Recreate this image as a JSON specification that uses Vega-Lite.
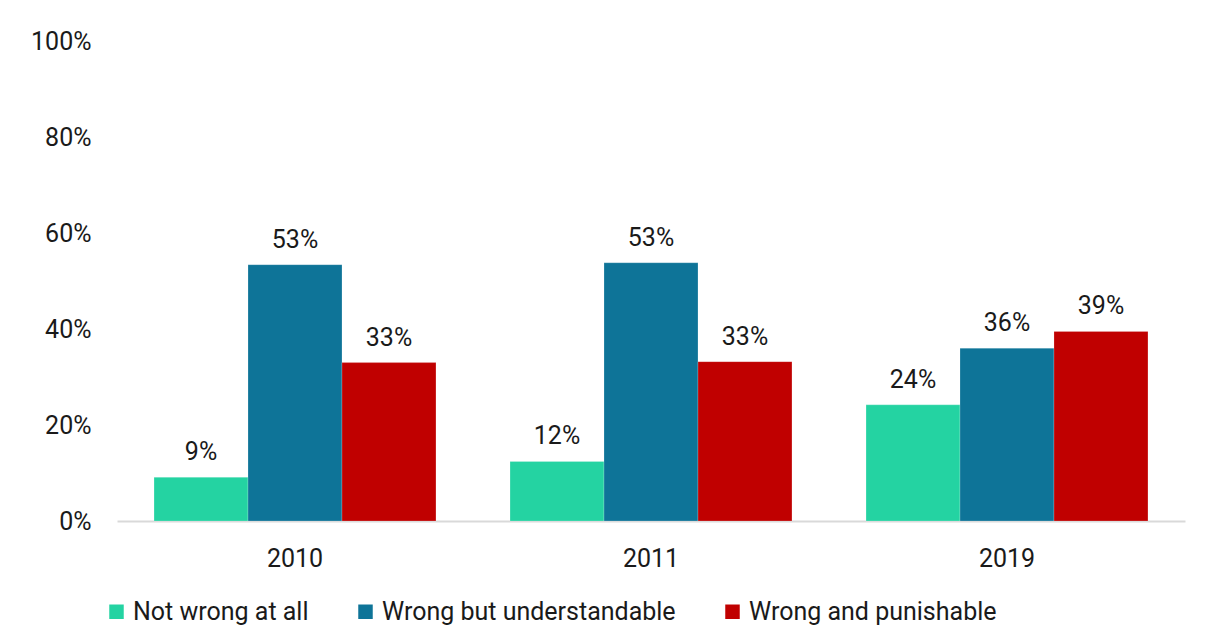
{
  "$schema": "https://vega.github.io/schema/vega-lite/v6.json",
  "autosize": "none",
  "width": 1068,
  "height": 480,
  "padding": {"left": 117, "top": 41, "right": 21, "bottom": 122},
  "background": "white",
  "data": {
    "values": [
      {"year": "2010", "category": "Not wrong at all", "value": 0.091, "label": "9%"},
      {"year": "2010", "category": "Wrong but understandable", "value": 0.534, "label": "53%"},
      {"year": "2010", "category": "Wrong and punishable", "value": 0.33, "label": "33%"},
      {"year": "2011", "category": "Not wrong at all", "value": 0.124, "label": "12%"},
      {"year": "2011", "category": "Wrong but understandable", "value": 0.538, "label": "53%"},
      {"year": "2011", "category": "Wrong and punishable", "value": 0.332, "label": "33%"},
      {"year": "2019", "category": "Not wrong at all", "value": 0.242, "label": "24%"},
      {"year": "2019", "category": "Wrong but understandable", "value": 0.36, "label": "36%"},
      {"year": "2019", "category": "Wrong and punishable", "value": 0.395, "label": "39%"}
    ]
  },
  "encoding": {
    "x": {
      "field": "year", "type": "nominal",
      "scale": {"paddingInner": 0.208, "paddingOuter": 0.104},
      "axis": {"title": null, "labelAngle": 0, "ticks": false, "domainColor": "#d9d9d9", "domainWidth": 2, "labelPadding": 25, "labelFontSize": 25, "labelColor": "#1a1a1a", "labelFont": "Roboto"}
    },
    "xOffset": {
      "field": "category", "type": "nominal",
      "sort": ["Not wrong at all", "Wrong but understandable", "Wrong and punishable"],
      "scale": {"paddingInner": 0, "paddingOuter": 0}
    },
    "y": {
      "field": "value", "type": "quantitative",
      "scale": {"domain": [0, 1]},
      "axis": {"title": null, "format": ".0%", "values": [0, 0.2, 0.4, 0.6, 0.8, 1], "grid": false, "ticks": false, "domain": false, "labelPadding": 26, "labelFontSize": 25, "labelColor": "#1a1a1a", "labelFont": "Roboto"}
    }
  },
  "layer": [
    {
      "mark": {"type": "bar", "stroke": "white", "strokeOpacity": 0.4, "strokeWidth": 0.5},
      "encoding": {
        "color": {
          "field": "category", "type": "nominal",
          "sort": ["Not wrong at all", "Wrong but understandable", "Wrong and punishable"],
          "scale": {"domain": ["Not wrong at all", "Wrong but understandable", "Wrong and punishable"], "range": ["#24d3a2", "#0e7498", "#c00000"]},
          "legend": {"title": null, "orient": "none", "legendX": -13, "legendY": 558, "direction": "horizontal", "symbolType": "square", "symbolSize": 210, "symbolStrokeWidth": 0, "labelFontSize": 25, "labelColor": "#1a1a1a", "labelFont": "Roboto", "labelLimit": 0, "columnPadding": 44, "labelOffset": 4}
        }
      }
    },
    {
      "mark": {"type": "text", "baseline": "alphabetic", "dy": -17, "fontSize": 25, "font": "Roboto", "color": "#1a1a1a"},
      "encoding": {"text": {"field": "label"}}
    }
  ],
  "config": {"view": {"stroke": null}}
}
